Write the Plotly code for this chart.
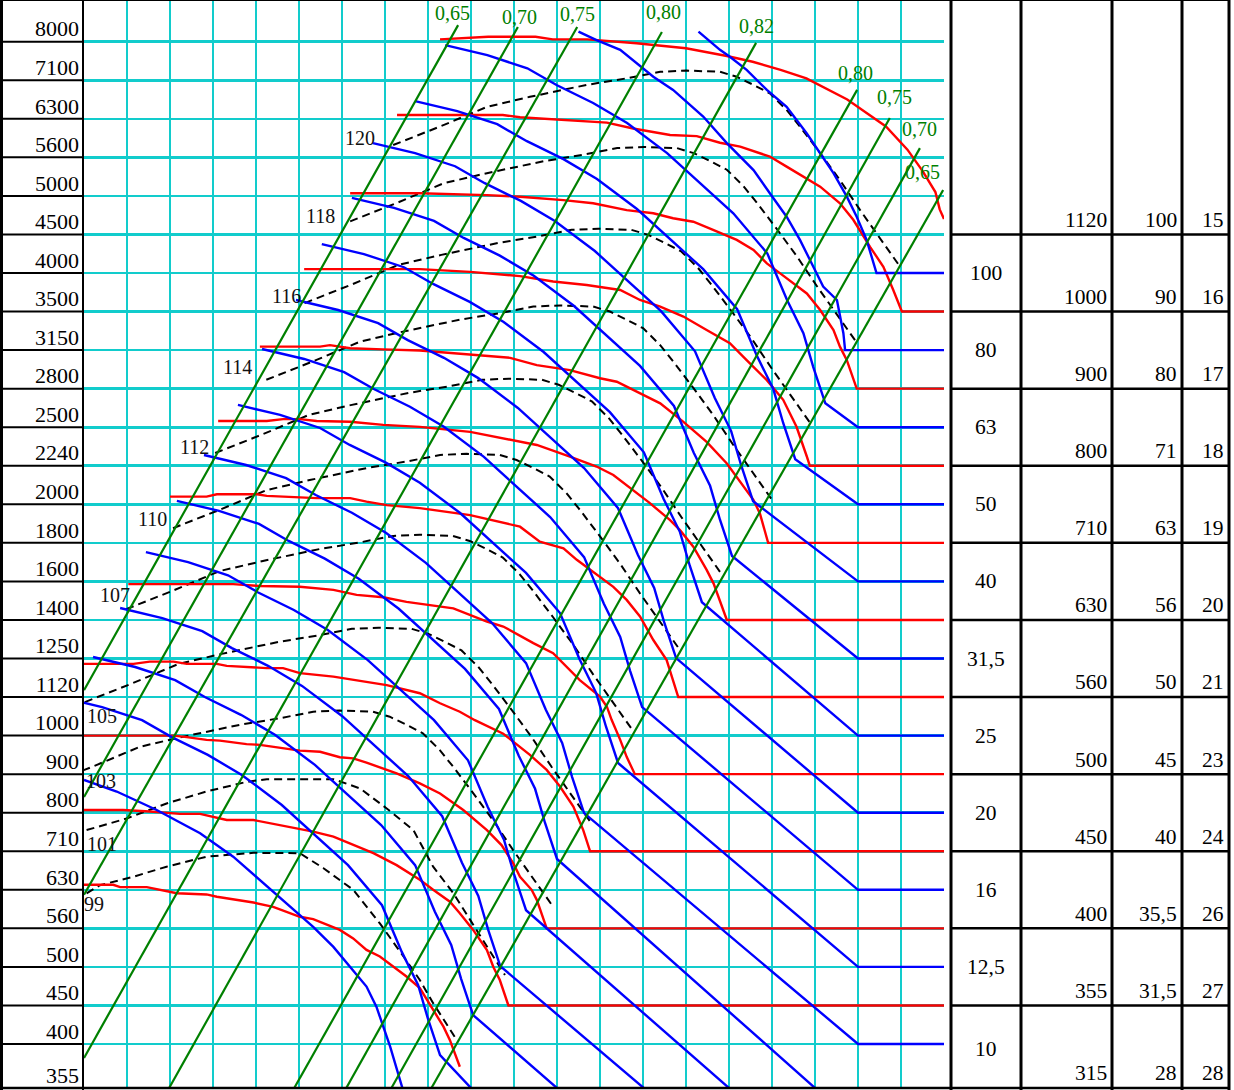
import plotly.graph_objects as go

# ---------------- data (grid units: x = flow step, y = pressure step) ----------------
pressure_labels = ["355", "400", "450", "500", "560", "630", "710", "800", "900", "1000",
                   "1120", "1250", "1400", "1600", "1800", "2000", "2240", "2500", "2800",
                   "3150", "3500", "4000", "4500", "5000", "5600", "6300", "7100", "8000"]
pressure_steps = [-0.14] + list(range(1, 28))
flow_steps = list(range(1, 20))

red_x = [
    [8.28, 8.98, 9.4, 10.5, 10.9, 11.7, 12.85, 14.0, 14.95, 15.55, 16.2, 16.8, 17.75, 18.2, 18.65, 19.15, 19.5, 19.8, 19.9, 20.0],
    [7.28, 9.74, 10.14, 11.69, 12.16, 12.77, 13.63, 14.25, 14.79, 15.26, 15.95, 16.34, 16.73, 17.12, 17.58, 17.89, 18.28, 18.59, 18.82, 19.02, 20.0],
    [6.19, 7.81, 9.37, 10.14, 11.15, 11.84, 12.62, 13.24, 13.70, 14.17, 14.63, 15.18, 15.57, 15.88, 16.19, 16.5, 16.81, 17.12, 17.43, 17.58, 17.74, 17.97, 20.0],
    [5.12, 7.81, 8.98, 10.14, 10.91, 11.69, 12.47, 12.93, 13.40, 13.94, 14.48, 15.02, 15.41, 15.88, 16.26, 16.57, 16.81, 16.88, 20.0],
    [4.09, 5.49, 5.72, 6.19, 6.95, 7.81, 9.91, 10.53, 11.30, 12.0, 12.39, 12.93, 13.40, 13.94, 14.48, 14.95, 15.18, 15.33, 15.57, 15.72, 15.91, 20.0],
    [3.12, 4.25, 4.63, 5.02, 5.41, 6.19, 6.96, 7.81, 8.98, 9.75, 10.53, 11.30, 11.92, 12.31, 12.77, 13.16, 13.63, 13.86, 14.17, 14.48, 14.64, 14.95, 20.0],
    [2.0, 2.85, 3.09, 4.02, 4.25, 5.41, 6.19, 6.57, 7.04, 7.81, 8.98, 10.14, 10.60, 11.15, 11.46, 11.84, 12.31, 12.62, 12.93, 13.24, 13.55, 13.82, 20.0],
    [1.03, 3.47, 4.09, 5.02, 5.80, 6.34, 6.96, 7.50, 8.59, 9.37, 9.75, 10.45, 10.91, 11.53, 12.0, 12.16, 12.27, 12.47, 12.62, 12.81, 20.0],
    [0.0, 1.15, 1.53, 2.08, 2.39, 3.09, 3.32, 4.25, 4.63, 5.02, 5.80, 6.57, 7.04, 7.81, 8.28, 8.74, 9.09, 9.75, 10.37, 10.76, 11.07, 11.38, 11.61, 11.77, 20.0],
    [0.0, 2.08, 2.39, 2.85, 3.16, 3.78, 4.09, 4.40, 5.02, 5.49, 5.95, 6.26, 6.57, 7.27, 7.81, 8.28, 8.82, 9.37, 9.71, 9.98, 10.14, 10.41, 10.53, 10.76, 20.0],
    [0.0, 0.91, 1.53, 2.23, 2.70, 3.09, 3.32, 3.94, 4.25, 4.71, 5.33, 5.80, 6.26, 6.73, 7.27, 7.81, 8.12, 8.51, 8.74, 9.05, 9.37, 9.52, 9.67, 9.87, 20.0],
    [0.0, 0.68, 0.84, 1.46, 2.16, 2.85, 3.09, 3.94, 4.40, 4.71, 5.02, 5.33, 5.64, 5.95, 6.26, 6.57, 6.88, 7.19, 7.50, 7.81, 8.12, 8.36, 8.51, 8.63, 8.74],
]
red_y = [
    [27.06, 27.11, 27.13, 27.13, 27.06, 27.06, 26.96, 26.83, 26.63, 26.48, 26.27, 26.05, 25.5, 25.15, 24.8, 24.2, 23.65, 23.1, 22.65, 22.4],
    [25.1, 25.1, 25.04, 24.93, 24.9, 24.75, 24.58, 24.55, 24.38, 24.28, 24.02, 23.76, 23.5, 23.24, 22.81, 22.38, 21.68, 21.16, 20.56, 20.0, 20.0],
    [23.07, 23.07, 23.02, 22.98, 22.89, 22.81, 22.63, 22.55, 22.42, 22.33, 22.12, 21.86, 21.60, 21.25, 20.99, 20.73, 20.47, 20.04, 19.52, 19.09, 18.74, 18.0, 18.0],
    [21.1, 21.1, 21.03, 20.92, 20.78, 20.69, 20.56, 20.30, 20.13, 19.87, 19.52, 19.18, 18.74, 18.22, 17.71, 17.01, 16.24, 16.0, 16.0],
    [19.09, 19.09, 19.13, 19.05, 19.02, 18.99, 18.80, 18.61, 18.48, 18.27, 18.18, 17.88, 17.62, 17.14, 16.62, 16.06, 15.71, 15.46, 15.11, 14.76, 14.0, 14.0],
    [17.16, 17.16, 17.21, 17.21, 17.16, 17.14, 17.06, 17.01, 16.88, 16.71, 16.54, 16.24, 15.98, 15.76, 15.37, 15.03, 14.59, 14.33, 13.90, 13.30, 12.95, 12.0, 12.0],
    [15.20, 15.20, 15.26, 15.26, 15.22, 15.16, 15.16, 15.07, 14.98, 14.90, 14.72, 14.42, 14.03, 13.86, 13.56, 13.25, 12.86, 12.52, 12.09, 11.48, 10.96, 10.0, 10.0],
    [12.93, 12.93, 12.88, 12.86, 12.78, 12.65, 12.59, 12.47, 12.30, 11.96, 11.83, 11.40, 11.14, 10.44, 10.01, 9.75, 9.41, 8.89, 8.45, 8.0, 8.0],
    [10.86, 10.86, 10.92, 10.92, 10.86, 10.86, 10.81, 10.75, 10.75, 10.62, 10.53, 10.40, 10.31, 10.10, 9.84, 9.62, 9.40, 9.05, 8.50, 8.11, 7.68, 7.16, 6.55, 6.0, 6.0],
    [9.0, 9.0, 8.96, 8.89, 8.87, 8.78, 8.76, 8.71, 8.61, 8.58, 8.44, 8.41, 8.30, 8.02, 7.76, 7.50, 7.07, 6.55, 6.16, 5.69, 5.34, 5.0, 4.74, 4.0, 4.0],
    [7.07, 7.07, 7.03, 6.97, 6.97, 6.86, 6.81, 6.81, 6.74, 6.64, 6.51, 6.38, 6.16, 5.95, 5.64, 5.26, 5.0, 4.69, 4.39, 3.96, 3.44, 3.0, 2.66, 2.0, 2.0],
    [5.13, 5.13, 5.07, 5.07, 4.91, 4.88, 4.82, 4.67, 4.56, 4.43, 4.30, 4.24, 4.11, 3.96, 3.74, 3.44, 3.27, 3.02, 2.75, 2.45, 1.88, 1.45, 1.10, 0.76, 0.41],
]

blue_x = [
    [14.29, 14.79, 15.02, 15.41, 15.88, 16.34, 16.81, 17.12, 17.43, 17.74, 17.97, 18.20, 18.43, 20.0],
    [11.50, 11.92, 12.47, 12.85, 13.24, 13.70, 14.40, 14.95, 15.57, 15.95, 16.34, 16.65, 16.96, 17.19, 17.51, 17.58, 17.66, 17.70, 20.0],
    [8.40, 9.38, 10.31, 11.00, 11.84, 12.63, 13.56, 14.26, 15.10, 15.89, 16.35, 16.73, 16.96, 17.24, 18.0, 20.0],
    [7.70, 8.68, 9.61, 10.30, 11.14, 11.93, 12.86, 13.56, 14.40, 15.19, 15.65, 16.03, 16.26, 16.54, 18.0, 20.0],
    [6.72, 7.70, 8.63, 9.32, 10.16, 10.95, 11.88, 12.58, 13.42, 14.21, 14.67, 15.05, 15.28, 15.56, 18.0, 20.0],
    [6.23, 7.21, 8.14, 8.83, 9.67, 10.46, 11.39, 12.09, 12.93, 13.72, 14.18, 14.56, 14.79, 15.07, 18.0, 20.0],
    [5.53, 6.51, 7.44, 8.13, 8.97, 9.76, 10.69, 11.39, 12.23, 13.02, 13.48, 13.86, 14.09, 14.37, 18.0, 20.0],
    [4.93, 5.91, 6.84, 7.53, 8.37, 9.16, 10.09, 10.79, 11.63, 12.42, 12.88, 13.26, 13.49, 13.77, 18.0, 20.0],
    [4.14, 5.12, 6.05, 6.74, 7.58, 8.37, 9.30, 10.00, 10.84, 11.63, 12.09, 12.47, 12.70, 12.98, 18.0, 20.0],
    [3.58, 4.56, 5.49, 6.18, 7.02, 7.81, 8.74, 9.44, 10.28, 11.07, 11.53, 11.91, 12.14, 12.42, 18.0, 20.0],
    [2.79, 3.77, 4.70, 5.39, 6.23, 7.02, 7.95, 8.65, 9.49, 10.28, 10.74, 11.12, 11.35, 11.63, 18.0, 20.0],
    [2.16, 3.14, 4.07, 4.76, 5.60, 6.39, 7.32, 8.02, 8.86, 9.65, 10.11, 10.49, 10.72, 11.00, 17.06],
    [1.44, 2.42, 3.35, 4.04, 4.88, 5.67, 6.60, 7.30, 8.14, 8.93, 9.39, 9.77, 10.00, 10.28, 15.06],
    [0.84, 1.82, 2.75, 3.44, 4.28, 5.07, 6.00, 6.70, 7.54, 8.33, 8.79, 9.17, 9.40, 9.68, 13.08],
    [0.21, 1.19, 2.12, 2.81, 3.65, 4.44, 5.37, 6.07, 6.91, 7.70, 8.16, 8.54, 8.77, 9.05, 11.06],
    [-0.56, 0.42, 1.35, 2.04, 2.88, 3.67, 4.60, 5.30, 6.14, 6.93, 7.39, 7.77, 8.00, 8.28, 9.05],
    [0.0, 0.76, 1.69, 2.70, 3.47, 4.09, 4.79, 5.33, 5.80, 6.19, 6.57, 6.80, 7.12, 7.42],
]
blue_y = [
    [27.26, 26.79, 26.61, 26.27, 25.75, 25.31, 24.62, 24.11, 23.59, 22.98, 22.46, 21.86, 21.0, 21.0],
    [27.26, 27.04, 26.79, 26.44, 26.09, 25.75, 25.06, 24.37, 23.67, 23.07, 22.46, 21.86, 21.16, 20.65, 20.30, 19.87, 19.44, 19.0, 19.0],
    [26.91, 26.65, 26.31, 25.87, 25.41, 24.89, 24.11, 23.41, 22.55, 21.51, 20.30, 19.44, 18.56, 17.62, 17.0, 17.0],
    [25.46, 25.20, 24.86, 24.42, 23.96, 23.44, 22.66, 21.96, 21.10, 20.06, 18.85, 17.99, 17.11, 16.17, 15.0, 15.0],
    [24.37, 24.11, 23.77, 23.33, 22.87, 22.35, 21.57, 20.87, 20.01, 18.97, 17.76, 16.90, 16.02, 15.08, 13.0, 13.0],
    [22.95, 22.69, 22.35, 21.91, 21.45, 20.93, 20.15, 19.45, 18.59, 17.55, 16.34, 15.48, 14.60, 13.66, 11.0, 11.0],
    [21.75, 21.49, 21.15, 20.71, 20.25, 19.73, 18.95, 18.25, 17.39, 16.35, 15.14, 14.28, 13.40, 12.46, 9.0, 9.0],
    [20.30, 20.04, 19.70, 19.26, 18.80, 18.28, 17.50, 16.80, 15.94, 14.90, 13.69, 12.83, 11.95, 11.01, 7.0, 7.0],
    [19.03, 18.77, 18.43, 17.99, 17.53, 17.01, 16.23, 15.53, 14.67, 13.63, 12.42, 11.56, 10.68, 9.74, 5.0, 5.0],
    [17.58, 17.32, 16.98, 16.54, 16.08, 15.56, 14.78, 14.08, 13.22, 12.18, 10.97, 10.11, 9.23, 8.29, 3.0, 3.0],
    [16.28, 16.02, 15.68, 15.24, 14.78, 14.26, 13.48, 12.78, 11.92, 10.88, 9.67, 8.81, 7.93, 6.99, 1.0, 1.0],
    [15.09, 14.83, 14.49, 14.05, 13.59, 13.07, 12.29, 11.59, 10.73, 9.69, 8.48, 7.62, 6.74, 5.80, -0.2],
    [13.76, 13.50, 13.16, 12.72, 12.26, 11.74, 10.96, 10.26, 9.40, 8.36, 7.15, 6.29, 5.41, 4.47, -0.2],
    [12.31, 12.05, 11.71, 11.27, 10.81, 10.29, 9.51, 8.81, 7.95, 6.91, 5.70, 4.84, 3.96, 3.02, -0.2],
    [11.04, 10.78, 10.44, 10.00, 9.54, 9.02, 8.24, 7.54, 6.68, 5.64, 4.43, 3.57, 2.69, 1.75, -0.2],
    [10.00, 9.74, 9.40, 8.96, 8.50, 7.98, 7.20, 6.50, 5.64, 4.60, 3.39, 2.53, 1.65, 0.71, -0.2],
    [7.85, 7.55, 7.07, 6.47, 5.86, 5.26, 4.56, 4.04, 3.52, 3.0, 2.49, 1.97, 0.93, -0.2],
]

noise_x = [
    [7.19, 8.28, 9.37, 10.37, 11.69, 12.62, 13.40, 14.02, 14.79, 15.18, 15.57, 15.95, 16.34, 16.65, 17.12, 17.58, 18.05, 18.43, 18.98],
    [6.19, 7.28, 8.37, 9.37, 10.69, 11.62, 12.40, 13.02, 13.79, 14.18, 14.57, 14.95, 15.34, 15.65, 16.12, 16.58, 17.05, 17.43, 17.98],
    [5.13, 6.22, 7.31, 8.31, 9.63, 10.56, 11.34, 11.96, 12.73, 13.12, 13.51, 13.89, 14.28, 14.59, 15.06, 15.52, 15.99, 16.37, 16.92],
    [4.24, 5.33, 6.42, 7.42, 8.74, 9.67, 10.45, 11.07, 11.84, 12.23, 12.62, 13.00, 13.39, 13.70, 14.17, 14.63, 15.10, 15.48, 16.03],
    [3.05, 4.14, 5.23, 6.23, 7.55, 8.48, 9.26, 9.88, 10.65, 11.04, 11.43, 11.81, 12.20, 12.51, 12.98, 13.44, 13.91, 14.29, 14.84],
    [2.07, 3.16, 4.25, 5.25, 6.57, 7.50, 8.28, 8.90, 9.67, 10.06, 10.45, 10.83, 11.22, 11.53, 12.00, 12.46, 12.93, 13.31, 13.86],
    [0.98, 2.07, 3.16, 4.16, 5.48, 6.41, 7.19, 7.81, 8.58, 8.97, 9.36, 9.74, 10.13, 10.44, 10.91, 11.37, 11.84, 12.22, 12.77],
    [0.02, 1.11, 2.20, 3.20, 4.52, 5.45, 6.23, 6.85, 7.62, 8.01, 8.40, 8.78, 9.17, 9.48, 9.95, 10.41, 10.88, 11.26, 11.81],
    [-0.88, 0.21, 1.30, 2.30, 3.62, 4.55, 5.33, 5.95, 6.72, 7.11, 7.50, 7.88, 8.27, 8.58, 9.05, 9.51, 9.98, 10.36, 10.91],
    [0.06, 0.99, 1.92, 2.85, 3.78, 4.25, 5.80, 6.42, 7.04, 7.66, 8.12, 8.59, 8.98, 9.37, 9.79],
    [0.06, 0.37, 1.15, 1.92, 2.85, 3.94, 5.02, 5.57, 6.26, 6.88, 7.43, 7.81, 8.12, 8.67],
]
noise_y = [
    [24.32, 24.80, 25.31, 25.57, 25.88, 26.05, 26.22, 26.25, 26.22, 26.09, 25.88, 25.66, 25.23, 24.80, 24.11, 23.41, 22.63, 22.03, 21.16],
    [22.34, 22.82, 23.33, 23.59, 23.90, 24.07, 24.24, 24.27, 24.24, 24.11, 23.90, 23.68, 23.25, 22.82, 22.13, 21.43, 20.65, 20.05, 19.18],
    [20.22, 20.70, 21.21, 21.47, 21.78, 21.95, 22.12, 22.15, 22.12, 21.99, 21.78, 21.56, 21.13, 20.70, 20.01, 19.31, 18.53, 17.93, 17.06],
    [18.23, 18.71, 19.22, 19.48, 19.79, 19.96, 20.13, 20.16, 20.13, 20.00, 19.79, 19.57, 19.14, 18.71, 18.02, 17.32, 16.54, 15.94, 15.07],
    [16.33, 16.81, 17.32, 17.58, 17.89, 18.06, 18.23, 18.26, 18.23, 18.10, 17.89, 17.67, 17.24, 16.81, 16.12, 15.42, 14.64, 14.04, 13.17],
    [14.38, 14.86, 15.37, 15.63, 15.94, 16.11, 16.28, 16.31, 16.28, 16.15, 15.94, 15.72, 15.29, 14.86, 14.17, 13.47, 12.69, 12.09, 11.22],
    [12.28, 12.76, 13.27, 13.53, 13.84, 14.01, 14.18, 14.21, 14.18, 14.05, 13.84, 13.62, 13.19, 12.76, 12.07, 11.37, 10.59, 9.99, 9.12],
    [9.87, 10.35, 10.86, 11.12, 11.43, 11.60, 11.77, 11.80, 11.77, 11.64, 11.43, 11.21, 10.78, 10.35, 9.66, 8.96, 8.18, 7.58, 6.71],
    [7.72, 8.20, 8.71, 8.97, 9.28, 9.45, 9.62, 9.65, 9.62, 9.49, 9.28, 9.06, 8.63, 8.20, 7.51, 6.81, 6.03, 5.43, 4.56],
    [6.55, 6.85, 7.24, 7.55, 7.80, 7.87, 7.87, 7.63, 7.11, 6.55, 5.60, 4.91, 4.22, 3.52, 2.79],
    [4.91, 5.12, 5.34, 5.60, 5.86, 5.96, 5.95, 5.56, 5.00, 4.13, 3.27, 2.66, 2.06, 1.10],
]
noise_labels = ["120", "118", "116", "114", "112", "110", "107", "105", "103", "101", "99"]
noise_label_x = [6.42, 5.49, 4.72, 3.58, 2.58, 1.60, 0.72, 0.42, 0.40, 0.42, 0.23]
noise_label_y = [24.50, 22.48, 20.40, 18.56, 16.49, 14.62, 12.65, 9.51, 7.82, 6.19, 4.63]

eff_labels = ["0,65", "0,70", "0,75", "0,80", "0,82", "0,80", "0,75", "0,70", "0,65"]
eff_x = [[0.0, 8.70], [0.0, 10.09], [0.0, 11.47], [0.0, 13.44], [1.95, 15.63],
         [4.86, 17.98], [6.07, 18.74], [7.12, 19.44], [8.05, 19.98]]
eff_y = [[10.18, 27.43], [7.41, 27.38], [4.87, 27.38], [0.64, 27.25], [-0.2, 26.97],
         [-0.2, 25.75], [-0.2, 25.02], [-0.2, 24.24], [-0.2, 23.15]]
eff_label_x = [8.58, 10.12, 11.47, 13.47, 15.63, 17.95, 18.84, 19.44, 19.49]
eff_label_y = [27.74, 27.64, 27.72, 27.77, 27.41, 26.19, 25.57, 24.74, 23.62]

table_col1 = ["", "100", "80", "63", "50", "40", "31,5", "25", "20", "16", "12,5", "10"]
table_col2 = ["1120", "1000", "900", "800", "710", "630", "560", "500", "450", "400", "355", "315"]
table_col3 = ["100", "90", "80", "71", "63", "56", "50", "45", "40", "35,5", "31,5", "28"]
table_col4 = ["15", "16", "17", "18", "19", "20", "21", "23", "24", "26", "27", "28"]
table_row_bottom = [22, 20, 18, 16, 14, 12, 10, 8, 6, 4, 2, -0.141]

# ---------------- styling / layout ----------------
W, H = 1234, 1090
FONT = "Liberation Serif"
CYAN = "#12CCCC"
Y_RANGE = [-0.141, 28.082]


def px(xpix):
    return xpix / W


fig = go.Figure()

for xs, ys in zip(noise_x, noise_y):
    fig.add_trace(go.Scatter(x=xs, y=ys, mode="lines", hoverinfo="skip", showlegend=False,
                             line=dict(color="black", width=2, dash="8px,5px")))
for xs, ys in zip(red_x, red_y):
    fig.add_trace(go.Scatter(x=xs, y=ys, mode="lines", hoverinfo="skip", showlegend=False,
                             line=dict(color="#FF0000", width=2.4)))
for xs, ys in zip(blue_x, blue_y):
    fig.add_trace(go.Scatter(x=xs, y=ys, mode="lines", hoverinfo="skip", showlegend=False,
                             line=dict(color="#0000FF", width=2.4)))
for xs, ys in zip(eff_x, eff_y):
    fig.add_trace(go.Scatter(x=xs, y=ys, mode="lines", hoverinfo="skip", showlegend=False,
                             line=dict(color="#008000", width=2.2)))

annotations = []
for t, x, y in zip(eff_labels, eff_label_x, eff_label_y):
    annotations.append(dict(x=x, y=y, xref="x", yref="y", text=t, showarrow=False,
                            font=dict(family=FONT, size=20, color="#008000")))
for t, x, y in zip(noise_labels, noise_label_x, noise_label_y):
    annotations.append(dict(x=x, y=y, xref="x", yref="y", text=t, showarrow=False,
                            font=dict(family=FONT, size=20, color="#111111")))

# right-hand table texts
for i, yb in enumerate(table_row_bottom):
    if table_col1[i]:
        annotations.append(dict(x=px(986), y=yb + 1, xref="paper", yref="y", text=table_col1[i],
                                showarrow=False, xanchor="center", yanchor="middle",
                                font=dict(family=FONT, size=21.5, color="black")))
    for col, xr in ((table_col2, 1109), (table_col3, 1179), (table_col4, 1226)):
        annotations.append(dict(x=px(xr), y=yb + 0.38, xref="paper", yref="y", text=col[i],
                                showarrow=False, xanchor="right", yanchor="middle",
                                font=dict(family=FONT, size=21.5, color="black")))

shapes = []
# left label column borders
shapes.append(dict(type="line", xref="paper", yref="paper", x0=px(1.5), x1=px(1.5), y0=0, y1=1,
                   line=dict(color="black", width=3)))
shapes.append(dict(type="line", xref="paper", yref="paper", x0=px(83), x1=px(83), y0=0, y1=1,
                   line=dict(color="black", width=2)))
for k in range(1, 28):
    shapes.append(dict(type="line", xref="paper", yref="y", x0=px(1.5), x1=px(83), y0=k, y1=k,
                       line=dict(color="black", width=2)))
# outer top/bottom
shapes.append(dict(type="line", xref="paper", yref="paper", x0=0, x1=px(1230), y0=2 / H, y1=2 / H,
                   line=dict(color="black", width=2.5)))
shapes.append(dict(type="line", xref="paper", yref="paper", x0=0, x1=px(1230), y0=1, y1=1,
                   line=dict(color="black", width=2)))
# table
for xv in (951, 1021, 1112, 1182, 1229):
    shapes.append(dict(type="line", xref="paper", yref="paper", x0=px(xv), x1=px(xv), y0=0, y1=1,
                       line=dict(color="black", width=3)))
for yb in table_row_bottom[:-1]:
    shapes.append(dict(type="line", xref="paper", yref="y", x0=px(951), x1=px(1229), y0=yb, y1=yb,
                       line=dict(color="black", width=2.5)))
for s in shapes:
    s["layer"] = "above"

fig.update_layout(
    width=W, height=H,
    margin=dict(l=0, r=0, t=0, b=0),
    paper_bgcolor="white", plot_bgcolor="white",
    showlegend=False,
    xaxis=dict(domain=[px(84), px(944)], range=[0, 20], tickvals=flow_steps,
               showticklabels=False, ticks="", showgrid=True, gridcolor=CYAN, gridwidth=2.6,
               zeroline=False, showline=False, fixedrange=True),
    yaxis=dict(domain=[2 / H, 1], range=Y_RANGE, tickvals=pressure_steps, ticktext=pressure_labels,
               showgrid=True, gridcolor=CYAN, gridwidth=2.6, zeroline=False, showline=False,
               ticks="", ticklabelshift=-13, ticklabelstandoff=4,
               tickfont=dict(family=FONT, size=22, color="black"), fixedrange=True),
    annotations=annotations,
    shapes=shapes,
)

fig.write_html("out.html", config={"displayModeBar": False, "staticPlot": True},
               post_script="document.body.style.margin='0';document.body.style.overflow='hidden';")
